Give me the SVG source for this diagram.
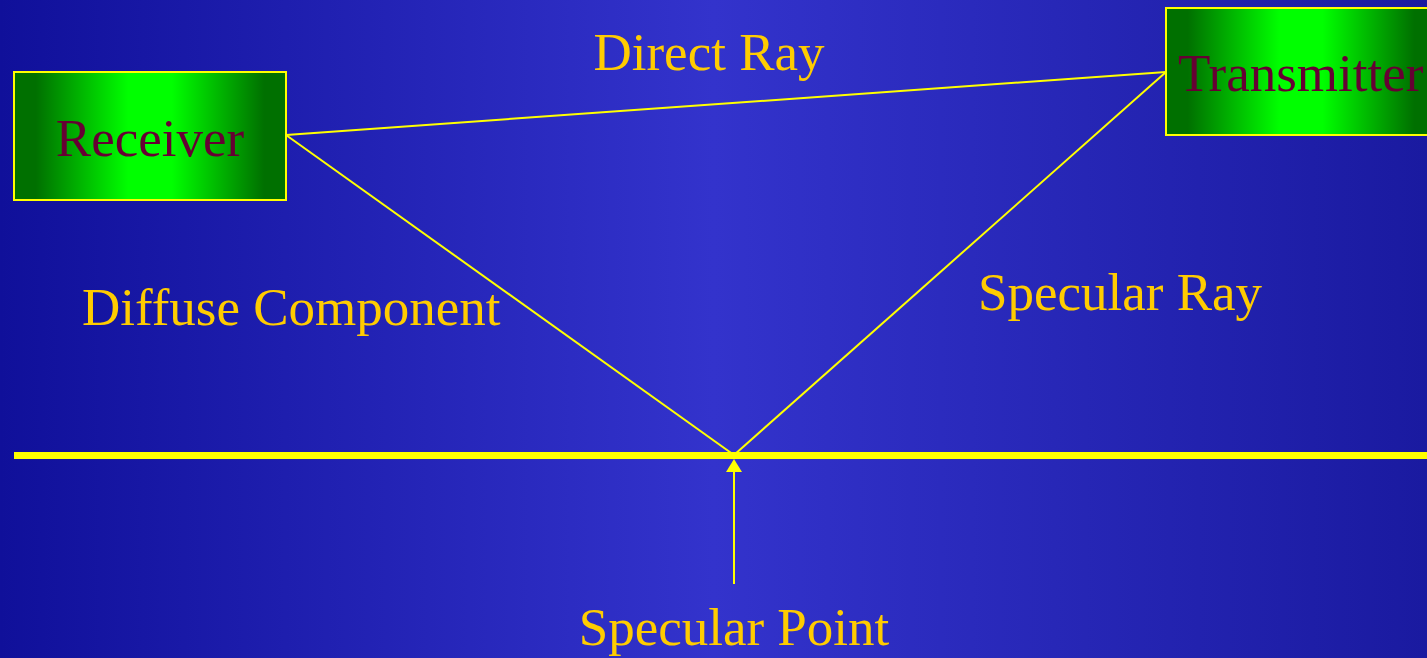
<svg xmlns="http://www.w3.org/2000/svg" width="1427" height="658" viewBox="0 0 1427 658">
<defs>
<linearGradient id="bg" x1="0" y1="0" x2="1" y2="0">
<stop offset="0" stop-color="#10109a"/>
<stop offset="0.5" stop-color="#3333cc"/>
<stop offset="1" stop-color="#1a1aa0"/>
</linearGradient>
<linearGradient id="box" x1="0" y1="0" x2="1" y2="0">
<stop offset="0.08" stop-color="#007000"/>
<stop offset="0.42" stop-color="#00ff00"/>
<stop offset="0.58" stop-color="#00ff00"/>
<stop offset="0.92" stop-color="#007000"/>
</linearGradient>
<style>
.node rect{fill:url(#box);stroke:#ffff00;stroke-width:2}
.node text{font-family:"Liberation Serif",serif;font-size:53px;fill:#660033}
.lbl{font-family:"Liberation Serif",serif;font-size:53px;fill:#ffcc00}
.ray{stroke:#ffff00;stroke-width:2;fill:none}
</style>
</defs>
<rect width="1427" height="658" fill="url(#bg)"/>
<rect x="14" y="452" width="1413" height="7" fill="#ffff00"/>
<g id="receiver" class="node">
<rect x="14" y="72" width="272" height="128"/>
<text x="150" y="156" text-anchor="middle">Receiver</text>
</g>
<g id="transmitter" class="node">
<rect x="1166" y="8" width="270" height="127"/>
<text x="1178" y="91">Transmitter</text>
</g>
<g id="connectors">
<line class="ray" x1="286" y1="135" x2="1166" y2="72" stroke-width="2.5"/>
<line class="ray" x1="286" y1="135" x2="734" y2="455" stroke-width="1.5"/>
<line class="ray" x1="1166" y1="72" x2="734" y2="455" stroke-width="1.5"/>
<line class="ray" x1="734" y1="584" x2="734" y2="470"/>
<polygon points="734,459 742,472 726,472" fill="#ffff00"/>
</g>
<text class="lbl" x="709" y="70" text-anchor="middle">Direct Ray</text>
<text class="lbl" x="82" y="325">Diffuse Component</text>
<text class="lbl" x="978" y="310">Specular Ray</text>
<text class="lbl" x="734" y="645" text-anchor="middle">Specular Point</text>
</svg>
